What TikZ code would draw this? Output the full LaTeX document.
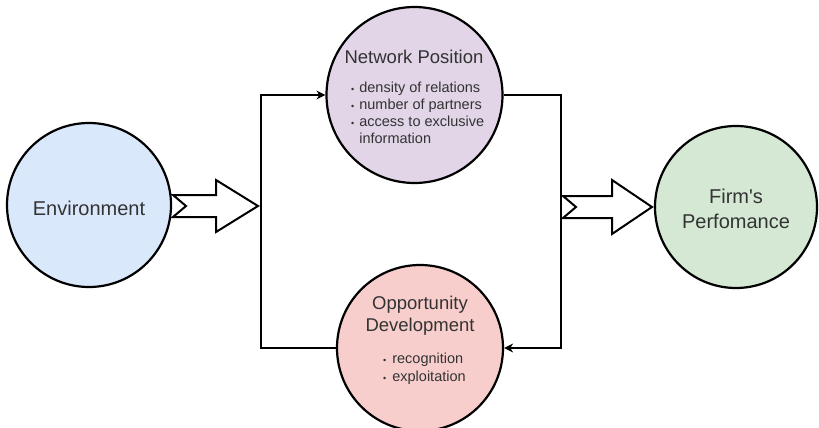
\documentclass[tikz,border=0pt]{standalone}
\usepackage{fontspec}
\setmainfont{Liberation Sans}
\usetikzlibrary{arrows.meta}
\definecolor{envfill}{HTML}{DAE8FC}
\definecolor{npfill}{HTML}{E1D5E7}
\definecolor{odfill}{HTML}{F8CECC}
\definecolor{fpfill}{HTML}{D5E8D4}
\definecolor{txt}{HTML}{333333}
\tikzset{
  circ/.style={circle, draw=black, line width=2.2pt, inner sep=0pt},
  title/.style={text=txt, align=center, inner sep=0pt},
  conn/.style={line width=2.4pt, black},
  bigarrow/.style={draw=black, fill=white, line width=2pt, line join=miter}
}
\newcommand{\bl}{{\fontsize{9}{9}\selectfont\textbullet}}
\begin{document}
\begin{tikzpicture}[x=1pt,y=-1pt]
\useasboundingbox (0,0) rectangle (819,428);
% circles
\node[circ, fill=envfill, minimum size=164pt] (env) at (89,205) {};
\node[circ, fill=npfill, minimum size=176pt] (np) at (414.5,95) {};
\node[circ, fill=odfill, minimum size=166pt] (od) at (420,348) {};
\node[circ, fill=fpfill, minimum size=162pt] (fp) at (736,207) {};
% texts
\node[title, font=\fontsize{20}{24}\selectfont] (envt) at (89,208) {Environment};
\node[title, font=\fontsize{18.5}{22}\selectfont] (npt) at (414,57) {Network Position};
\node[title, font=\fontsize{14.5}{16.8}\selectfont, anchor=west, align=left] (npb) at (351,114.5) {%
  \begin{tabular}{@{}l@{\hspace{5pt}}l@{}}
  \bl & density of relations\\
  \bl & number of partners\\
  \bl & access to exclusive\\
      & information
  \end{tabular}};
\node[title, font=\fontsize{18.5}{22}\selectfont] (odt) at (420,316) {Opportunity\\Development};
\node[title, font=\fontsize{14.5}{18}\selectfont, anchor=west, align=left] (odb) at (383,369) {%
  \begin{tabular}{@{}l@{\hspace{6pt}}l@{}}
  \bl & recognition\\
  \bl & exploitation
  \end{tabular}};
\node[title, font=\fontsize{20}{25}\selectfont] (fpt) at (736,209) {Firm\textquotesingle s\\Perfomance};
% connectors
\coordinate (lt) at (261,95);
\coordinate (rt) at (561,95);
\draw[conn, -{Stealth[length=9pt,width=9pt]}] (od.west) -| (lt) -- (np.west);
\draw[conn, -{Stealth[length=9pt,width=9pt]}] (np.east) -- (rt) |- (od.east);
% big hollow arrows
\draw[bigarrow] (173,195) -- (216,195) -- (216,180) -- (258,206) -- (216,232) -- (216,217) -- (173,217) -- (186,206) -- cycle;
\draw[bigarrow] (563,196) -- (612,196) -- (612,180) -- (652,207) -- (612,234) -- (612,218) -- (563,218) -- (576,207) -- cycle;
\end{tikzpicture}
\end{document}
